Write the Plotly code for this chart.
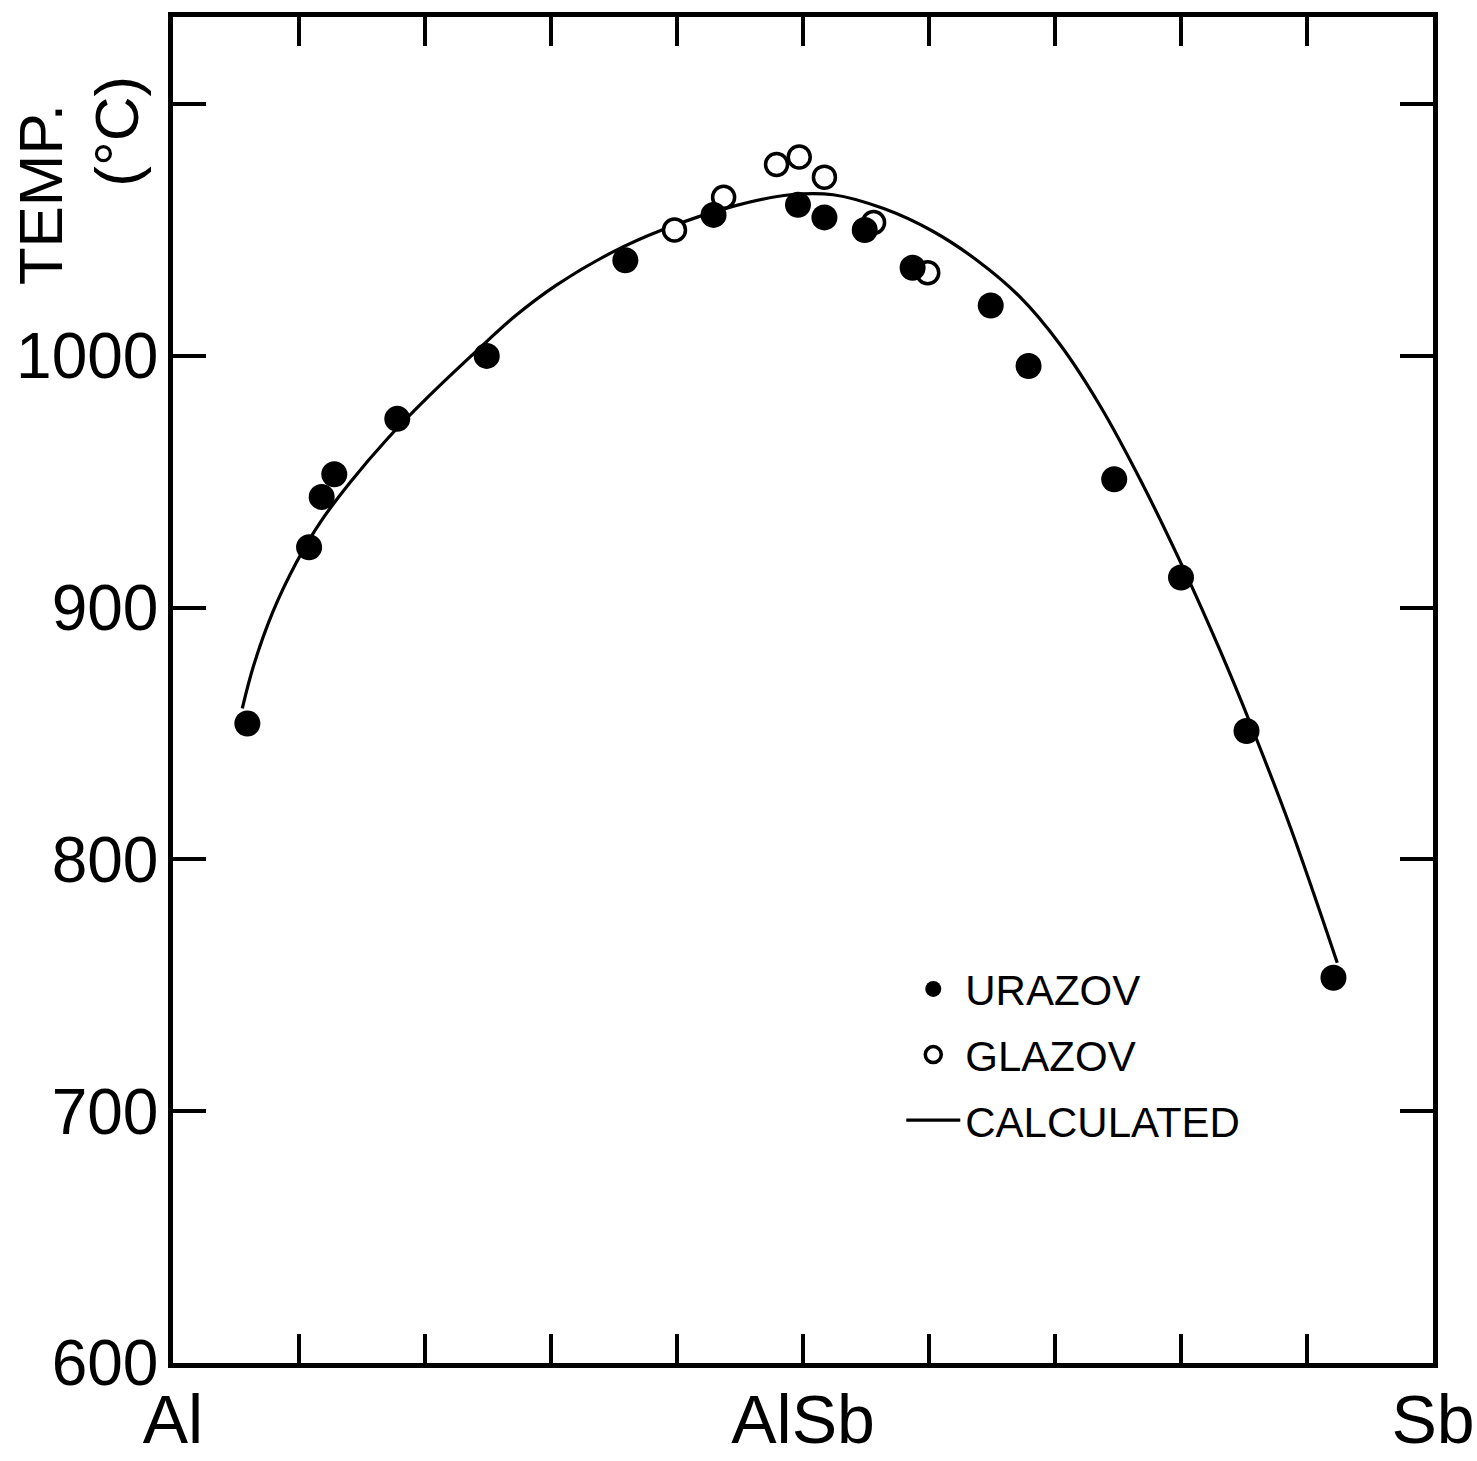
import plotly.graph_objects as go

# Calculated liquidus (x = mole fraction Sb, T in °C)
calc_x = [0.055, 0.064, 0.079, 0.098, 0.117, 0.141, 0.170, 0.202, 0.241, 0.272, 0.304, 0.348, 0.388,
          0.445, 0.490, 0.524, 0.564, 0.603, 0.638, 0.672, 0.704, 0.736, 0.768, 0.802, 0.831, 0.855,
          0.887, 0.924]
calc_T = [860, 877, 898, 918, 934, 950, 967, 983.5, 1002, 1016, 1028, 1041, 1050,
          1059.5, 1064, 1064, 1058.5, 1049.5, 1038, 1023.5, 1004.5, 980, 950.5, 915.5, 883, 854,
          812.5, 759]

# Urazov (filled circles)
ura_x = [0.059, 0.108, 0.118, 0.128, 0.178, 0.249, 0.359, 0.429, 0.496, 0.517, 0.549, 0.587,
         0.649, 0.679, 0.747, 0.800, 0.852, 0.921]
ura_T = [854, 924, 944, 953, 975, 1000, 1038, 1056, 1060, 1055, 1050, 1035,
         1020, 996, 951, 912, 851, 753]

# Glazov (open circles)
gla_x = [0.398, 0.437, 0.479, 0.497, 0.517, 0.556, 0.599]
gla_T = [1050, 1063, 1076, 1079, 1071, 1053, 1033]

x_tickvals = [0.0, 0.1, 0.2, 0.3, 0.4, 0.5, 0.6, 0.7, 0.8, 0.9, 1.0]
x_ticktext = ["Al", "", "", "", "", "AlSb", "", "", "", "", "Sb"]
y_tickvals = [600, 700, 800, 900, 1000, 1100]
y_ticktext = ["600", "700", "800", "900", "1000", ""]

FONT = "Liberation Sans, Arial, sans-serif"

fig = go.Figure()
fig.add_trace(go.Scatter(
    x=calc_x, y=calc_T, mode="lines", name="CALCULATED",
    line=dict(color="black", width=3.2, shape="spline", smoothing=1.0),
    legendrank=3, legendgroup="c"))
fig.add_trace(go.Scatter(
    x=gla_x, y=gla_T, mode="markers", name="GLAZOV",
    marker=dict(symbol="circle", size=22, color="white", line=dict(color="black", width=3.5)),
    legendrank=2, legendgroup="g"))
fig.add_trace(go.Scatter(
    x=ura_x, y=ura_T, mode="markers", name="URAZOV",
    marker=dict(symbol="circle", size=26, color="black", line=dict(width=0)),
    legendrank=1, legendgroup="u"))

axis_common = dict(
    showline=True, linecolor="black", linewidth=4.5, mirror="allticks",
    ticks="inside", tickcolor="black", tickwidth=4,
    showgrid=False, zeroline=False, automargin=False,
)

fig.update_xaxes(
    range=[0, 1], tickmode="array", tickvals=x_tickvals, ticktext=x_ticktext,
    ticklen=29, ticklabelstandoff=-6,
    tickfont=dict(family=FONT, size=68, color="black"), **axis_common,
)
fig.update_yaxes(
    range=[600, 1134.6], tickmode="array", tickvals=y_tickvals, ticktext=y_ticktext,
    ticklen=33, ticklabelstandoff=-3,
    tickfont=dict(family=FONT, size=64, color="black"), **axis_common,
)

fig.add_annotation(text="TEMP.", xref="paper", yref="paper", x=-0.105, y=0.868,
                   xanchor="center", yanchor="middle",
                   textangle=-90, showarrow=False, font=dict(family=FONT, size=62, color="black"))
fig.add_annotation(text="(°C)", xref="paper", yref="paper", x=-0.045, y=0.915,
                   xanchor="center", yanchor="middle",
                   textangle=-90, showarrow=False, font=dict(family=FONT, size=62, color="black"))

fig.update_layout(
    width=1477, height=1461,
    margin=dict(l=173, r=44, t=17, b=98),
    paper_bgcolor="white", plot_bgcolor="white",
    showlegend=True,
    legend=dict(
        x=0.578, y=0.303, xanchor="left", yanchor="top",
        font=dict(family=FONT, size=42, color="black"),
        bgcolor="rgba(0,0,0,0)", itemwidth=54, tracegroupgap=8,
    ),
)

fig.write_html("out.html")
